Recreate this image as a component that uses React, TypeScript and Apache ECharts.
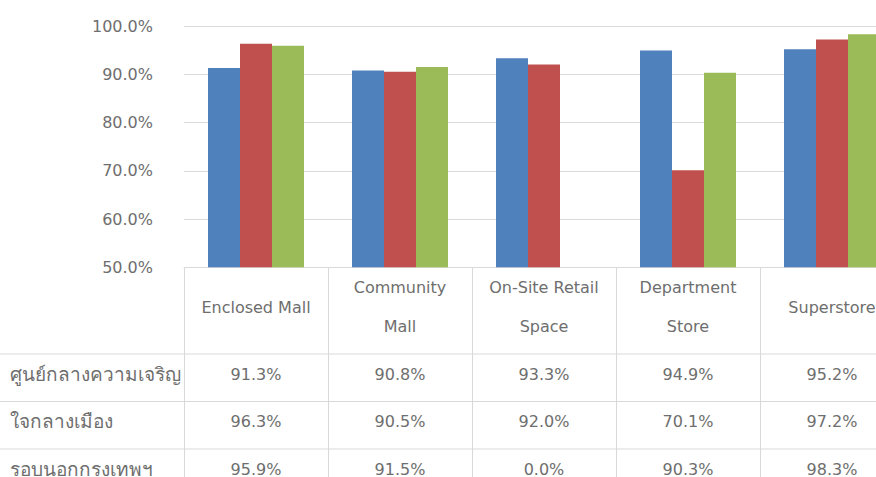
import React, { useEffect, useRef } from "react";
import * as echarts from "echarts";

const categories = ["Enclosed Mall", "Community\nMall", "On-Site Retail\nSpace", "Department\nStore", "Superstore"];
const seriesNames = ["ศูนย์กลางความเจริญ", "ใจกลางเมือง", "รอบนอกกรุงเทพฯ"];
const centerValues = [91.3, 90.8, 93.3, 94.9, 95.2];
const downtownValues = [96.3, 90.5, 92.0, 70.1, 97.2];
const suburbValues = [95.9, 91.5, 0.0, 90.3, 98.3];
const yTicks = { min: 50, max: 100, interval: 10 };

const colors = ["#4F81BD", "#C0504D", "#9BBB59"];
const textColor = "#6E6E6E";
const lineColor = "#D9D9D9";
const font = "'DejaVu Sans', sans-serif";

export default function App() {
  const ref = useRef<HTMLDivElement>(null);
  useEffect(() => {
    document.body.style.margin = "0";
    document.documentElement.style.overflow = "hidden";
    const chart = echarts.init(ref.current!, undefined, { renderer: "svg" });
    const allValues = [centerValues, downtownValues, suburbValues];
    const gridTop = 26;
    const gridHeight = 242;
    const headerH = 86;
    const rowH = 47.5;
    const fmt = (v: number) => v.toFixed(1) + "%";

    const rowAxes = allValues.map((vals, r) => ({
      type: "category",
      gridIndex: 0,
      position: "bottom",
      data: categories,
      axisLine: { show: false },
      axisTick: { show: false },
      splitLine: { show: false },
      axisLabel: {
        interval: 0,
        margin: headerH + rowH * r + rowH / 2 - 3,
        verticalAlign: "middle",
        fontSize: 16,
        fontFamily: font,
        color: textColor,
        formatter: (_v: string, i: number) => fmt(vals[i]),
      },
    }));

    const baseY = gridTop + gridHeight;
    const graphics: any[] = [];
    for (let r = 0; r < 3; r++) {
      const y = baseY + headerH + rowH * r;
      graphics.push({
        type: "line",
        shape: { x1: 0, y1: y, x2: 920, y2: y },
        style: { stroke: lineColor, lineWidth: 1 },
        silent: true,
      });
      graphics.push({
        type: "text",
        x: 10,
        y: y + rowH / 2 - 4,
        style: {
          text: seriesNames[r],
          fontSize: 19,
          fontFamily: font,
          fill: textColor,
          verticalAlign: "middle",
          align: "left",
        },
        silent: true,
      });
    }

    chart.setOption({
      animation: false,
      grid: { left: 184, top: gridTop, width: 720, height: gridHeight },
      xAxis: [
        {
          type: "category",
          data: categories,
          axisLine: { show: true, lineStyle: { color: lineColor, width: 1 } },
          axisTick: { show: true, length: 240, interval: 0, lineStyle: { color: lineColor, width: 1 } },
          axisLabel: {
            interval: 0,
            margin: 40,
            verticalAlign: "middle",
            lineHeight: 39,
            fontSize: 16,
            fontFamily: font,
            color: textColor,
          },
        },
        ...rowAxes,
      ],
      yAxis: {
        type: "value",
        min: yTicks.min,
        max: yTicks.max,
        interval: yTicks.interval,
        axisLine: { show: false },
        axisTick: { show: false },
        splitLine: { lineStyle: { color: lineColor, width: 1 } },
        axisLabel: {
          margin: 31,
          fontSize: 16,
          fontFamily: font,
          color: textColor,
          formatter: (v: number) => fmt(v),
        },
      },
      series: allValues.map((vals, i) => ({
        name: seriesNames[i],
        type: "bar",
        xAxisIndex: 0,
        data: vals,
        barGap: "0%",
        barCategoryGap: "33.33%",
        itemStyle: { color: colors[i] },
      })),
      graphic: graphics,
    });
    return () => chart.dispose();
  }, []);
  return (
    <div style={{ width: 876, height: 477, overflow: "hidden", position: "relative" }}>
      <div ref={ref} style={{ width: 920, height: 477 }} />
    </div>
  );
}
